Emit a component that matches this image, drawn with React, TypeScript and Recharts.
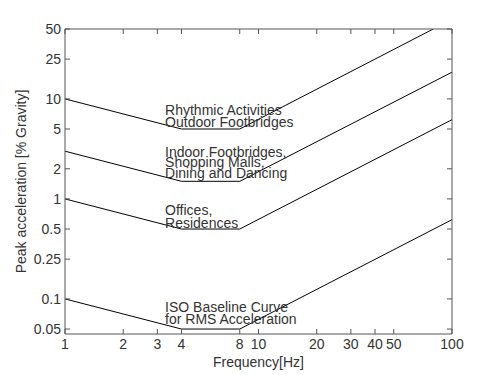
import React from 'react';
import { LineChart, Line, XAxis, YAxis, ReferenceDot } from 'recharts';

// frequency breakpoints (Hz) and peak acceleration (% g)
const freqs = [1, 4, 8, 100];
const outdoorFreqs = [1, 4, 8, 80];
const isoBaseline = [0.1, 0.05, 0.05, 0.62];
const offices = [1, 0.5, 0.5, 6.2];
const indoor = [3, 1.5, 1.5, 18.5];
const outdoor = [10, 5, 5, 50];

const xTicks = [1, 2, 3, 4, 8, 10, 20, 30, 40, 50, 100];
const yTicks = [0.05, 0.1, 0.25, 0.5, 1, 2, 5, 10, 25, 50];

// curve annotations: text, anchor frequency, anchor value (baseline)
const labelText = [
  'Rhythmic Activities',
  'Outdoor Footbridges',
  'Indoor Footbridges,',
  'Shopping Malls,',
  'Dining and Dancing',
  'Offices,',
  'Residences',
  'ISO Baseline Curve',
  'for RMS Acceleration',
];
const labelFreq = [3.29, 3.29, 3.29, 3.29, 3.29, 3.29, 3.29, 3.29, 3.29];
const labelValue = [6.92, 5.19, 2.63, 2.07, 1.62, 0.692, 0.513, 0.0741, 0.0556];

const toRows = (xs: number[], ys: number[]) => xs.map((f, i) => ({ f, a: ys[i] }));

const FONT = '"Liberation Sans", Arial, sans-serif';
const AXIS = '#555';
const TEXT = '#333';
const FS = 14;

const BottomTick = ({ x, y, payload }: any) => (
  <g>
    <line x1={x} y1={y} x2={x} y2={y - 5} stroke={AXIS} />
    <text x={x} y={y + 15} textAnchor="middle" fill={TEXT} fontSize={FS} fontFamily={FONT}>
      {payload.value}
    </text>
  </g>
);

const TopTick = ({ x, y }: any) => <line x1={x} y1={y} x2={x} y2={y + 5} stroke={AXIS} />;

const LeftTick = ({ x, y, payload }: any) => (
  <g>
    <line x1={x} y1={y} x2={x + 5} y2={y} stroke={AXIS} />
    <text x={x - 4} y={y + 5} textAnchor="end" fill={TEXT} fontSize={FS} fontFamily={FONT}>
      {payload.value}
    </text>
  </g>
);

const RightTick = ({ x, y }: any) => <line x1={x} y1={y} x2={x - 5} y2={y} stroke={AXIS} />;

const Annotation = ({ viewBox, text }: any) => (
  <text x={viewBox.x} y={viewBox.y + (viewBox.height || 0) / 2} fill={TEXT} fontSize={FS} fontFamily={FONT}>
    {text}
  </text>
);

const YTitle = ({ viewBox }: any) => {
  const cx = 21;
  const cy = viewBox.y + viewBox.height / 2;
  return (
    <text x={cx} y={cy} transform={`rotate(-90 ${cx} ${cy})`} textAnchor="middle" dominantBaseline="central"
      fill={TEXT} fontSize={FS} fontFamily={FONT}>
      Peak acceleration [% Gravity]
    </text>
  );
};

const XTitle = ({ viewBox }: any) => (
  <text x={viewBox.x + viewBox.width / 2} y={viewBox.y + 33} textAnchor="middle"
    fill={TEXT} fontSize={FS} fontFamily={FONT}>
    Frequency[Hz]
  </text>
);

const series = [
  { name: 'iso', data: toRows(freqs, isoBaseline) },
  { name: 'offices', data: toRows(freqs, offices) },
  { name: 'indoor', data: toRows(freqs, indoor) },
  { name: 'outdoor', data: toRows(outdoorFreqs, outdoor) },
];

export default function App() {
  return (
    <div style={{ position: 'absolute', left: 0, top: 0, background: '#fff' }}>
      <LineChart width={500} height={375} margin={{ top: 28, right: 47, bottom: 40, left: 0 }}>
        <XAxis
          dataKey="f"
          type="number"
          scale="log"
          domain={[1, 100]}
          ticks={xTicks}
          interval={0}
          allowDataOverflow
          height={1}
          tickSize={0}
          tickMargin={0}
          tickLine={false}
          stroke={AXIS}
          tick={<BottomTick />}
          label={<XTitle />}
        />
        <XAxis
          xAxisId="top"
          orientation="top"
          dataKey="f"
          type="number"
          scale="log"
          domain={[1, 100]}
          ticks={xTicks}
          interval={0}
          allowDataOverflow
          height={1}
          tickSize={0}
          tickMargin={0}
          tickLine={false}
          stroke={AXIS}
          tick={<TopTick />}
        />
        <YAxis
          type="number"
          scale="log"
          domain={[0.0446, 50]}
          ticks={yTicks}
          interval={0}
          allowDataOverflow
          width={65}
          tickSize={0}
          tickMargin={0}
          tickLine={false}
          stroke={AXIS}
          tick={<LeftTick />}
          label={<YTitle />}
        />
        <YAxis
          yAxisId="right"
          orientation="right"
          type="number"
          scale="log"
          domain={[0.0446, 50]}
          ticks={yTicks}
          interval={0}
          allowDataOverflow
          width={1}
          tickSize={0}
          tickMargin={0}
          tickLine={false}
          stroke={AXIS}
          tick={<RightTick />}
        />
        {series.map((s) => (
          <Line
            key={s.name}
            data={s.data}
            dataKey="a"
            stroke="#000"
            strokeWidth={1}
            dot={false}
            activeDot={false}
            isAnimationActive={false}
          />
        ))}
        {labelText.map((t, i) => (
          <ReferenceDot
            key={t}
            x={labelFreq[i]}
            y={labelValue[i]}
            r={0}
            fill="none"
            stroke="none"
            label={<Annotation text={t} />}
          />
        ))}
      </LineChart>
    </div>
  );
}
